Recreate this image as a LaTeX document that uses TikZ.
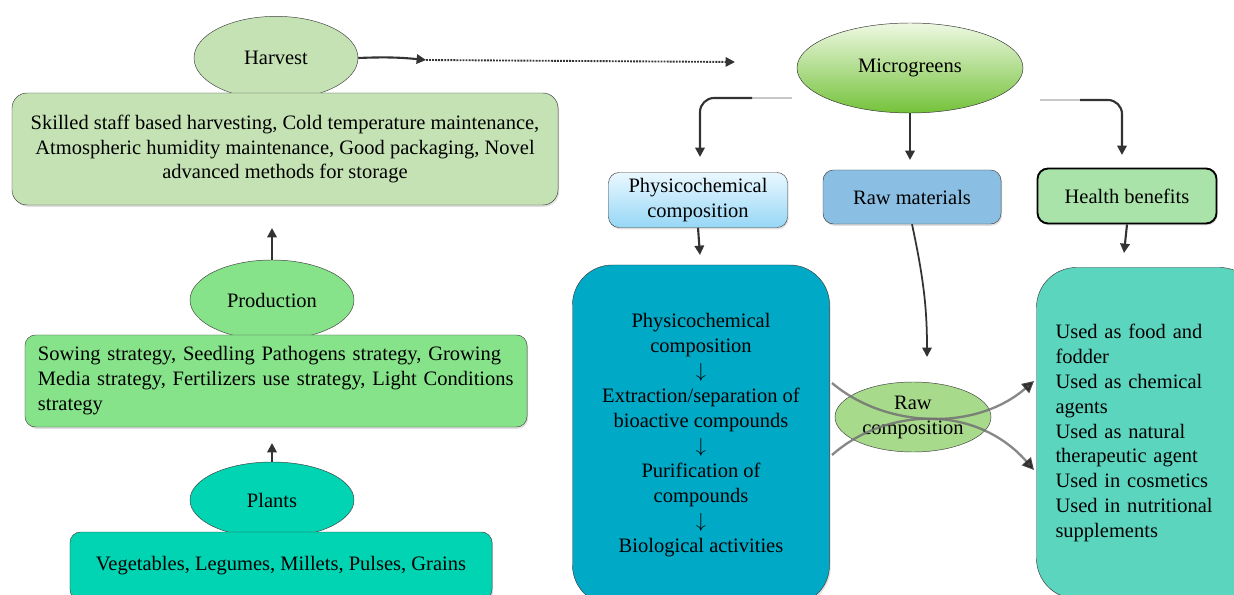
\documentclass[tikz,border=0pt]{standalone}
\usepackage{fontspec}
\setmainfont{Liberation Serif}
\usetikzlibrary{arrows.meta,positioning,shapes.geometric,shadows}
\definecolor{HarvestGreen}{HTML}{C5E2B5}
\definecolor{ProdGreen}{HTML}{86E38A}
\definecolor{PlantTeal}{HTML}{00D4B2}
\definecolor{StepsBlue}{HTML}{00A9C6}
\definecolor{UsesTeal}{HTML}{5CD5BE}
\definecolor{RawGreen}{HTML}{A8DA8C}
\definecolor{HealthGreen}{HTML}{A9E3A9}
\definecolor{RawBlue}{HTML}{8ABFE3}
\definecolor{MicroTop}{HTML}{EEF8E2}
\definecolor{MicroBottom}{HTML}{74C23A}
\definecolor{PhysTop}{HTML}{EAF8FF}
\definecolor{PhysBottom}{HTML}{96D7F6}

\begin{document}
\begin{tikzpicture}[
  x=0.03cm,y=-0.03cm,
  font=\fontsize{17.5}{21.3}\selectfont,
  box/.style={draw=black!75,rounded corners=9pt,inner sep=0pt,align=center,
    drop shadow={opacity=0.25,shadow xshift=1pt,shadow yshift=-1.5pt}},
  oval/.style={ellipse,draw=black!75,inner sep=0pt,align=center},
  arrow/.style={-{Triangle[width=8pt,length=8pt]},line width=1.8pt,black!80},
  fadeline/.style={line width=1.6pt,black!22},
  crossarrow/.style={-{Triangle[width=10pt,length=10pt,color=black!85]},line width=2pt,black!55,opacity=0.85}
]
  \clip (0,0) rectangle (1234,595);

  % left column: plants -> production -> harvest
  \node[oval,fill=HarvestGreen,minimum width=4.92cm,minimum height=2.5cm] (harvest) at (276,58) {Harvest};
  \node[box,fill=HarvestGreen,rounded corners=13pt,minimum width=16.38cm,minimum height=3.36cm] (harvestbox) at (285,149)
    {Skilled staff based harvesting, Cold temperature maintenance,\\
     Atmospheric humidity maintenance, Good packaging, Novel\\
     advanced methods for storage};

  \node[oval,fill=ProdGreen,minimum width=4.92cm,minimum height=2.4cm] (production) at (272,300) {Production};
  \node[box,fill=ProdGreen,minimum width=15.06cm,minimum height=2.76cm,text width=14.28cm,align=left] (prodbox) at (276,381)
    {Sowing strategy, Seedling Pathogens strategy, Growing\\
     Media strategy, Fertilizers use strategy, Light Conditions\\
     strategy};

  \node[oval,fill=PlantTeal,minimum width=4.92cm,minimum height=2.28cm] (plants) at (272,500) {Plants};
  \node[box,fill=PlantTeal,minimum width=12.66cm,minimum height=2.04cm] (plantbox) at (281,566)
    {Vegetables, Legumes, Millets, Pulses, Grains};

  \coordinate (prodout) at (272,228);
  \coordinate (plantout) at (272,443);
  \draw[arrow] (production.north) -- (prodout);
  \draw[arrow] (plants.north) -- (plantout);

  % harvest to microgreens
  \coordinate (hdot) at (426,60);
  \coordinate (mdot) at (735,62);
  \draw[arrow] (harvest.east) to[bend left=4] (hdot);
  \draw[arrow,line width=1.6pt,densely dotted] (hdot) -- (mdot);

  % right part
  \node[oval,draw=black!80,top color=MicroTop,bottom color=MicroBottom,minimum width=6.78cm,minimum height=2.7cm] (micro) at (910,68) {Microgreens};

  \node[box,top color=PhysTop,bottom color=PhysBottom,minimum width=5.37cm,minimum height=1.65cm] (physico) at (698,200)
    {Physicochemical\\composition};
  \node[box,fill=RawBlue,minimum width=5.34cm,minimum height=1.62cm] (rawmat) at (912,197) {Raw materials};
  \node[box,fill=HealthGreen,draw=black,line width=1.6pt,minimum width=5.37cm,minimum height=1.65cm] (health) at (1127,196) {Health benefits};

  \coordinate (mleft) at (792,98);
  \coordinate (mleftb) at (752,98);
  \coordinate (physin) at (700,157);
  \coordinate (mright) at (1040,100);
  \coordinate (mrightb) at (1080,100);
  \coordinate (healthin) at (1122,155);
  \coordinate (rawin) at (910,160);
  \draw[fadeline] (mleft) -- (mleftb);
  \draw[arrow,rounded corners=12pt] (mleftb) -| (physin);
  \draw[arrow] (micro.south) -- (rawin);
  \draw[fadeline] (mright) -- (mrightb);
  \draw[arrow,rounded corners=12pt] (mrightb) -| (healthin);

  \node[box,fill=StepsBlue,rounded corners=34pt,minimum width=7.71cm,minimum height=10.2cm] (steps) at (701,435)
    {Physicochemical\\composition\\$\downarrow$\\Extraction/separation of\\bioactive compounds\\$\downarrow$\\
     Purification of\\compounds\\$\downarrow$\\Biological activities};
  \node[box,fill=UsesTeal,rounded corners=34pt,minimum width=6.69cm,minimum height=9.93cm,
    text width=5.55cm,align=left] (uses) at (1148,433)
    {Used as food and\\fodder\\Used as chemical\\agents\\Used as natural\\therapeutic agent\\
     Used in cosmetics\\Used in nutritional\\supplements};

  \coordinate (stepsin) at (700,255);
  \coordinate (usesin) at (1124,253);
  \coordinate (rawcompin) at (927,357);
  \draw[arrow] (physico.south) -- (stepsin);
  \draw[arrow] (health.south) -- (usesin);
  \draw[arrow,line width=1.5pt] (rawmat.south) .. controls (924,280) and (927,310) .. (rawcompin);

  \node[oval,fill=RawGreen,minimum width=4.68cm,minimum height=2.1cm] (rawcomp) at (913,417) {Raw\\composition};

  \coordinate (crossa) at (832,383);
  \coordinate (crossb) at (832,455);
  \coordinate (usesa) at (1034,381);
  \coordinate (usesb) at (1034,470);
  \draw[crossarrow] (crossa) .. controls (885,428) and (975,432) .. (usesa);
  \draw[crossarrow] (crossb) .. controls (885,408) and (975,403) .. (usesb);
\end{tikzpicture}
\end{document}
